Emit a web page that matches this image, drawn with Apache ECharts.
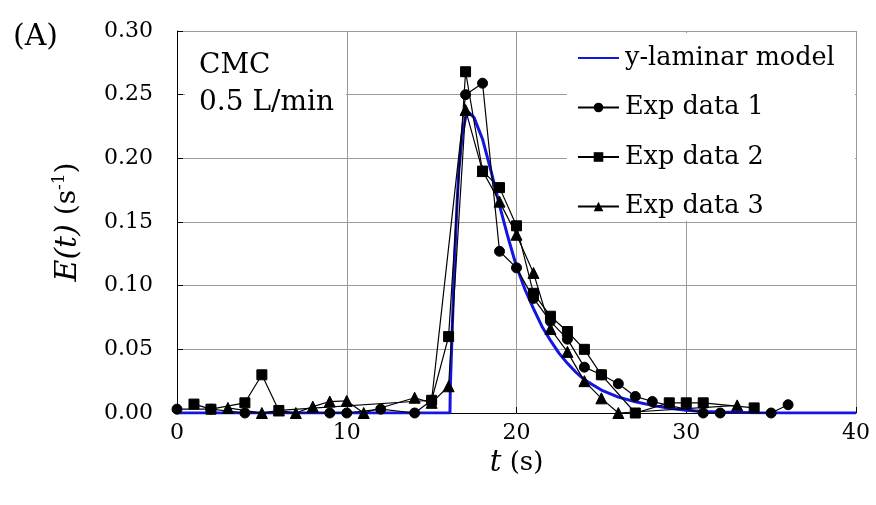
<!DOCTYPE html>
<html>
<head>
<meta charset="utf-8">
<script src="https://cdn.jsdelivr.net/npm/echarts@6/dist/echarts.min.js"></script>
<style>html,body{margin:0;padding:0;background:#fff}#c{width:876px;height:505px}</style>
</head>
<body>
<div id="c"></div>
<script>
// ---- data ----
const xTicks = [0, 10, 20, 30, 40];
const yTicks = [0.00, 0.05, 0.10, 0.15, 0.20, 0.25, 0.30];

const modelT = [0, 16.08, 16.1, 16.2, 16.3, 16.4, 16.5, 16.6, 16.8, 17.0, 17.2, 17.5, 18, 18.5, 19, 19.5, 20, 20.5, 21, 21.5, 22, 22.5, 23, 23.5, 24, 25, 26, 27, 28, 29, 30, 31, 32, 34, 36, 40];
const modelV = [0, 0, 0.02, 0.06, 0.10, 0.135, 0.165, 0.19, 0.218, 0.232, 0.236, 0.232, 0.215, 0.19, 0.163, 0.138, 0.115, 0.097, 0.082, 0.068, 0.057, 0.047, 0.039, 0.032, 0.026, 0.018, 0.0125, 0.0088, 0.006, 0.0038, 0.0022, 0.0012, 0.0007, 0.0002, 0, 0];

const exp1T = [0, 2, 4, 9, 10, 12, 14, 15, 17, 18, 19, 20, 21, 22, 23, 24, 25, 26, 27, 28, 31, 32, 35, 36];
const exp1V = [0.003, 0.003, 0, 0, 0, 0.003, 0, 0.010, 0.250, 0.259, 0.127, 0.114, 0.090, 0.072, 0.058, 0.036, 0.030, 0.023, 0.013, 0.009, 0, 0, 0, 0.0065];

const exp2T = [1, 2, 4, 5, 6, 15, 16, 17, 18, 19, 20, 21, 22, 23, 24, 25, 27, 29, 30, 31, 34];
const exp2V = [0.007, 0.003, 0.008, 0.030, 0.002, 0.010, 0.060, 0.268, 0.190, 0.177, 0.147, 0.094, 0.076, 0.064, 0.050, 0.030, 0, 0.008, 0.008, 0.008, 0.004];

const exp3T = [3, 5, 6, 7, 8, 9, 10, 11, 14, 15, 16, 17, 18, 19, 20, 21, 22, 23, 24, 25, 26, 33];
const exp3V = [0.004, 0, 0.002, 0, 0.005, 0.009, 0.0095, 0, 0.012, 0.008, 0.021, 0.238, 0.190, 0.166, 0.140, 0.110, 0.066, 0.048, 0.025, 0.0115, 0, 0.006];

const names = ['y-laminar model', 'Exp data 1', 'Exp data 2', 'Exp data 3'];

const zip = (t, v) => t.map((x, i) => [x, v[i]]);
const FONT = '"DejaVu Serif", "Liberation Serif", serif';

const chart = echarts.init(document.getElementById('c'), null, {renderer: 'canvas'});

const expSeries = (name, t, v, sym) => ({
  name: name, type: 'line', data: zip(t, v),
  symbol: sym, symbolSize: sym === 'triangle' ? 11 : 10,
  lineStyle: {color: '#000', width: 1.2},
  itemStyle: {color: '#000', borderColor: '#000'},
  z: 3, animation: false
});

chart.setOption({
  animation: false,
  backgroundColor: '#fff',
  grid: {left: 177, right: 20, top: 31, bottom: 92, containLabel: false},
  xAxis: {
    type: 'value', min: 0, max: 40, interval: 10,
    name: '{i|t}{n| (s)}', nameLocation: 'middle', nameGap: 34,
    nameTextStyle: {rich: {
      i: {fontFamily: FONT, fontSize: 29, fontStyle: 'italic', color: '#000'},
      n: {fontFamily: FONT, fontSize: 26, color: '#000'}
    }},
    axisLine: {show: true, lineStyle: {color: '#000', width: 1}},
    axisTick: {show: true, inside: true, length: 6, lineStyle: {color: '#000'}},
    axisLabel: {fontFamily: FONT, fontSize: 22, color: '#000', margin: 9},
    splitLine: {show: true, lineStyle: {color: '#9a9a9a', width: 1}}
  },
  yAxis: {
    type: 'value', min: 0, max: 0.30, interval: 0.05,
    name: '{i|E(t)}{n| (s}{s|-1}{n|)}', nameLocation: 'middle', nameGap: 92, nameRotate: 90,
    nameTextStyle: {rich: {
      i: {fontFamily: FONT, fontSize: 30, fontStyle: 'italic', color: '#000'},
      n: {fontFamily: FONT, fontSize: 28, color: '#000'},
      s: {fontFamily: FONT, fontSize: 17, color: '#000', verticalAlign: 'top', lineHeight: 34}
    }},
    axisLine: {show: true, lineStyle: {color: '#000', width: 1}},
    axisTick: {show: true, inside: true, length: 6, lineStyle: {color: '#000'}},
    axisLabel: {fontFamily: FONT, fontSize: 22, color: '#000', margin: 24,
      formatter: v => (Math.round(v * 100) / 100).toFixed(2)},
    splitLine: {show: true, lineStyle: {color: '#9a9a9a', width: 1}}
  },
  legend: {
    data: [{name: names[0], itemStyle: {opacity: 0}}, names[1], names[2], names[3]],
    orient: 'vertical', left: 572, top: 40,
    itemWidth: 41, itemHeight: 12, itemGap: 23.5,
    textStyle: {fontFamily: FONT, fontSize: 25.5, color: '#000', padding: [0, 0, 0, 1]},
    backgroundColor: 'transparent', z: 6
  },
  graphic: [
    {type: 'rect', left: 185, top: 33, shape: {width: 161, height: 92}, style: {fill: '#fff'}, z: 1, silent: true},
    {type: 'rect', left: 567, top: 33, shape: {width: 288, height: 188}, style: {fill: '#fff'}, z: 1, silent: true},
    {type: 'text', left: 199, top: 47, z: 5, style: {text: 'CMC\n0.5 L/min', font: '28px ' + FONT, fill: '#000', lineHeight: 37}},
    {type: 'text', left: 13, top: 22, z: 5, style: {text: '(A)', font: '30px ' + FONT, fill: '#000'}}
  ],
  series: [
    {name: names[0], type: 'line', data: zip(modelT, modelV), showSymbol: false, symbol: 'none',
     lineStyle: {color: '#1515e0', width: 3}, itemStyle: {color: '#1515e0'}, z: 2},
    expSeries(names[1], exp1T, exp1V, 'circle'),
    expSeries(names[2], exp2T, exp2V, 'rect'),
    expSeries(names[3], exp3T, exp3V, 'triangle')
  ]
});
</script>
</body>
</html>
